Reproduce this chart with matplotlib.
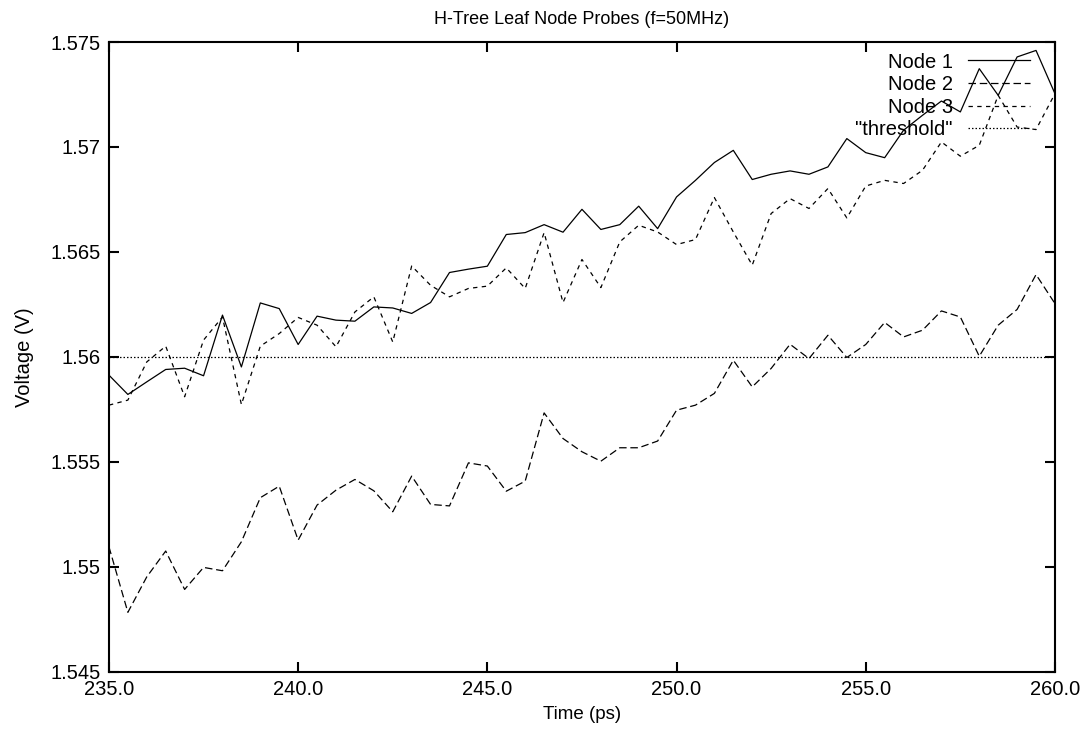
import matplotlib
matplotlib.use("Agg")
import matplotlib.pyplot as plt
from matplotlib.ticker import FuncFormatter, MultipleLocator

plt.rcParams['font.family'] = ['Liberation Sans', 'DejaVu Sans']

time_ps = [235 + 0.5 * i for i in range(51)]

node1 = [1.55913, 1.55821, 1.55881, 1.55940, 1.55946, 1.55910, 1.56199, 1.55952, 1.56257, 1.56230,
         1.56059, 1.56194, 1.56175, 1.56170, 1.56238, 1.56233, 1.56207, 1.56259, 1.56402, 1.56418,
         1.56432, 1.56583, 1.56592, 1.56630, 1.56594, 1.56703, 1.56607, 1.56630, 1.56718, 1.56611,
         1.56762, 1.56841, 1.56926, 1.56984, 1.56845, 1.56870, 1.56886, 1.56870, 1.56905, 1.57040,
         1.56973, 1.56949, 1.57080, 1.57151, 1.57219, 1.57167, 1.57373, 1.57246, 1.57429, 1.57460,
         1.57254]

node2 = [1.55095, 1.54783, 1.54952, 1.55075, 1.54892, 1.54997, 1.54981, 1.55119, 1.55329, 1.55384,
         1.55127, 1.55294, 1.55365, 1.55416, 1.55362, 1.55262, 1.55432, 1.55297, 1.55290, 1.55495,
         1.55480, 1.55360, 1.55408, 1.55733, 1.55611, 1.55548, 1.55503, 1.55567, 1.55567, 1.55599,
         1.55746, 1.55770, 1.55826, 1.55984, 1.55857, 1.55945, 1.56060, 1.55992, 1.56103, 1.55997,
         1.56059, 1.56164, 1.56095, 1.56127, 1.56219, 1.56190, 1.56003, 1.56151, 1.56226, 1.56392,
         1.56254]

node3 = [1.55770, 1.55794, 1.55976, 1.56051, 1.55810, 1.56080, 1.56190, 1.55773, 1.56051, 1.56111,
         1.56188, 1.56151, 1.56048, 1.56214, 1.56286, 1.56071, 1.56433, 1.56341, 1.56286, 1.56326,
         1.56337, 1.56424, 1.56326, 1.56592, 1.56259, 1.56464, 1.56330, 1.56548, 1.56627, 1.56595,
         1.56535, 1.56559, 1.56759, 1.56595, 1.56437, 1.56683, 1.56754, 1.56707, 1.56802, 1.56662,
         1.56814, 1.56841, 1.56826, 1.56889, 1.57024, 1.56956, 1.57008, 1.57246, 1.57095, 1.57083,
         1.57254]

threshold = 1.56

series_labels = ["Node 1", "Node 2", "Node 3", '"threshold"']
title = "H-Tree Leaf Node Probes (f=50MHz)"
xlabel = "Time (ps)"
ylabel = "Voltage (V)"

fig = plt.figure(figsize=(10.83, 7.31), dpi=100)
ax = fig.add_axes([0.1006, 0.0811, 0.8735, 0.8614])

lw = 0.9
ax.plot(time_ps, node1, color='black', lw=lw, linestyle='-', label=series_labels[0])
ax.plot(time_ps, node2, color='black', lw=lw, linestyle=(0, (6, 3)), label=series_labels[1])
ax.plot(time_ps, node3, color='black', lw=lw, linestyle=(0, (3.5, 3.5)), label=series_labels[2])
ax.axhline(threshold, color='black', lw=lw, linestyle=(0, (1.2, 1.6)), label=series_labels[3])

ax.set_xlim(235, 260)
ax.set_ylim(1.545, 1.575)
ax.xaxis.set_major_locator(MultipleLocator(5))
ax.yaxis.set_major_locator(MultipleLocator(0.005))
ax.xaxis.set_major_formatter(FuncFormatter(lambda v, p: f"{v:.1f}"))
ax.yaxis.set_major_formatter(FuncFormatter(lambda v, p: f"{round(v, 4):g}"))

ax.tick_params(direction='in', length=7, width=1.5, top=True, right=True,
               labelsize=14.5, pad=6)
for s in ax.spines.values():
    s.set_linewidth(1.5)

ax.set_title(title, fontsize=13, pad=13)
ax.set_xlabel(xlabel, fontsize=13.5, labelpad=5)
ax.set_ylabel(ylabel, fontsize=14.5, labelpad=12)

leg = ax.legend(loc='upper right', bbox_to_anchor=(0.9736, 0.9833), frameon=False,
                markerfirst=False, fontsize=14.5, handlelength=3.08, handletextpad=0.75,
                labelspacing=0.18, borderaxespad=0, borderpad=0)

fig.savefig("out.png", dpi=100)
